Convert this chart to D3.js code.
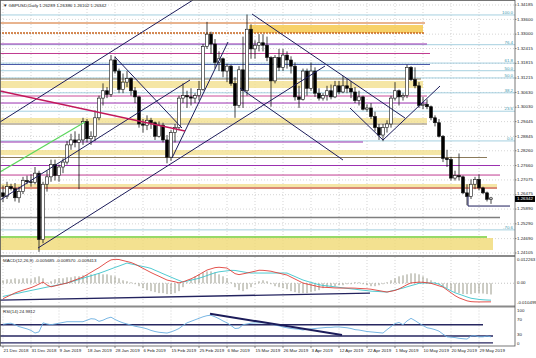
<!DOCTYPE html>
<html>
<head>
<meta charset="utf-8">
<script src="https://cdn.jsdelivr.net/npm/d3@7"></script>
<style>
  body { margin: 0; background: #fff; }
  svg { display: block; }
  text { font-family: "Liberation Sans", Arial, sans-serif; }
</style>
</head>
<body>
<div id="chart"></div>
<script>
// ---- data ----
const title = "\u25BC GBPUSD,Daily 1.26289 1.26386 1.26102 1.26342";
const macdTitle = "MACD(12,26,9) -0.005685 -0.008570 -0.009413";
const rsiTitle = "RSI(14) 24.9812";
const lastPrice = 1.26342;

// [open, high, low, close] per daily bar
const candles = [
  [1.2655,1.2685,1.2617,1.2640],[1.2640,1.2700,1.2630,1.2680],[1.2680,1.2692,1.2665,1.2672],[1.2672,1.2695,1.2620,1.2635],
  [1.2635,1.2680,1.2615,1.2660],[1.2660,1.2720,1.2650,1.2705],[1.2705,1.2725,1.2690,1.2700],[1.2700,1.2730,1.2680,1.2698],
  [1.2698,1.2760,1.2690,1.2735],[1.2735,1.2745,1.2415,1.2465],[1.2465,1.2700,1.2450,1.2690],[1.2690,1.2745,1.2660,1.2720],
  [1.2720,1.2790,1.2700,1.2770],[1.2770,1.2790,1.2705,1.2725],[1.2725,1.2770,1.2700,1.2760],[1.2760,1.2795,1.2735,1.2780],
  [1.2780,1.2865,1.2770,1.2850],[1.2850,1.2895,1.2830,1.2870],[1.2870,1.2905,1.2840,1.2860],[1.2860,1.2895,1.2670,1.2870],
  [1.2870,1.2960,1.2850,1.2945],[1.2945,1.2955,1.2860,1.2875],[1.2875,1.2905,1.2850,1.2885],[1.2885,1.2990,1.2865,1.2960],
  [1.2960,1.3050,1.2950,1.3040],[1.3040,1.3100,1.3010,1.3070],[1.3070,1.3085,1.3040,1.3055],[1.3055,1.3215,1.3045,1.3195],
  [1.3195,1.3210,1.3140,1.3150],[1.3150,1.3160,1.3060,1.3075],[1.3075,1.3140,1.3060,1.3105],[1.3105,1.3150,1.3085,1.3120],
  [1.3120,1.3125,1.3050,1.3070],[1.3070,1.3085,1.3020,1.3045],[1.3045,1.3050,1.2920,1.2935],[1.2935,1.2955,1.2900,1.2930],
  [1.2930,1.2970,1.2910,1.2950],[1.2950,1.2960,1.2915,1.2940],[1.2940,1.2945,1.2870,1.2885],[1.2885,1.2945,1.2880,1.2930],
  [1.2930,1.2940,1.2860,1.2870],[1.2870,1.2890,1.2775,1.2800],[1.2800,1.2910,1.2785,1.2900],[1.2900,1.2935,1.2860,1.2920],
  [1.2920,1.3050,1.2910,1.3040],[1.3040,1.3100,1.3020,1.3050],[1.3050,1.3070,1.3000,1.3045],[1.3045,1.3080,1.3010,1.3040],
  [1.3040,1.3060,1.3020,1.3050],[1.3050,1.3110,1.3030,1.3075],[1.3075,1.3260,1.3070,1.3250],[1.3250,1.3350,1.3240,1.3300],
  [1.3300,1.3310,1.3220,1.3260],[1.3260,1.3280,1.3160,1.3185],[1.3185,1.3230,1.3150,1.3200],[1.3200,1.3205,1.3125,1.3150],
  [1.3150,1.3180,1.3105,1.3170],[1.3170,1.3175,1.3090,1.3100],[1.3100,1.3125,1.2960,1.3010],[1.3010,1.3170,1.3000,1.3155],
  [1.3155,1.3290,1.3000,1.3070],[1.3070,1.3380,1.3050,1.3320],[1.3320,1.3340,1.3200,1.3240],[1.3240,1.3275,1.3200,1.3255],
  [1.3255,1.3300,1.3230,1.3265],[1.3265,1.3300,1.3230,1.3255],[1.3255,1.3290,1.3190,1.3205],[1.3205,1.3210,1.3005,1.3110],
  [1.3110,1.3215,1.3100,1.3205],[1.3205,1.3240,1.3150,1.3165],[1.3165,1.3240,1.3150,1.3215],[1.3215,1.3230,1.3160,1.3195],
  [1.3195,1.3210,1.3140,1.3170],[1.3170,1.3185,1.3030,1.3045],[1.3045,1.3090,1.3000,1.3035],[1.3035,1.3160,1.3030,1.3150],
  [1.3150,1.3160,1.3050,1.3080],[1.3080,1.3185,1.3070,1.3150],[1.3150,1.3165,1.3045,1.3060],[1.3060,1.3080,1.3030,1.3040],
  [1.3040,1.3060,1.3030,1.3050],[1.3050,1.3090,1.3030,1.3070],[1.3070,1.3095,1.3035,1.3045],[1.3045,1.3110,1.3040,1.3090],
  [1.3090,1.3110,1.3055,1.3065],[1.3065,1.3130,1.3060,1.3090],[1.3090,1.3120,1.3060,1.3080],[1.3080,1.3110,1.3040,1.3065],
  [1.3065,1.3085,1.3020,1.3030],[1.3030,1.3070,1.3010,1.3045],[1.3045,1.3050,1.2990,1.2995],[1.2995,1.3015,1.2985,1.3000],
  [1.3000,1.3020,1.2955,1.2965],[1.2965,1.2985,1.2905,1.2920],[1.2920,1.2935,1.2870,1.2890],[1.2890,1.2935,1.2865,1.2920],
  [1.2920,1.2950,1.2900,1.2935],[1.2935,1.3050,1.2920,1.3040],[1.3040,1.3105,1.3030,1.3070],[1.3070,1.3075,1.3010,1.3045],
  [1.3045,1.3060,1.3030,1.3050],[1.3050,1.3176,1.3040,1.3165],[1.3165,1.3170,1.3110,1.3115],[1.3115,1.3165,1.3080,1.3090],
  [1.3090,1.3105,1.3000,1.3010],[1.3010,1.3045,1.2995,1.3015],[1.3015,1.3035,1.2995,1.3005],[1.3005,1.3010,1.2950,1.2960],
  [1.2960,1.2970,1.2925,1.2940],[1.2940,1.2955,1.2880,1.2885],[1.2885,1.2890,1.2780,1.2795],[1.2795,1.2830,1.2760,1.2790],
  [1.2790,1.2800,1.2705,1.2715],[1.2715,1.2745,1.2705,1.2725],[1.2725,1.2815,1.2705,1.2720],[1.2720,1.2725,1.2650,1.2655],
  [1.2655,1.2690,1.2605,1.2640],[1.2640,1.2710,1.2630,1.2690],[1.2690,1.2720,1.2670,1.2710],[1.2710,1.2730,1.2665,1.2675],
  [1.2675,1.2680,1.2650,1.2655],[1.2655,1.2660,1.2620,1.26289],[1.26289,1.26386,1.26102,1.26342]
];

const macdMain = [
  -0.00779,-0.00683,-0.00587,-0.00491,-0.00415,-0.00349,-0.00288,-0.00223,-0.00142,-0.00040,
  0.00061,-0.00091,-0.00182,-0.00132,-0.00086,-0.00035,0.00010,0.00086,0.00162,0.00238,
  0.00314,0.00435,0.00551,0.00673,0.00789,0.00926,0.01067,0.01179,0.01209,0.01199,
  0.01148,0.01098,0.01047,0.00966,0.00860,0.00754,0.00647,0.00541,0.00445,0.00354,
  0.00258,0.00162,0.00116,0.00071,0.00020,0.00071,0.00147,0.00223,0.00319,0.00435,
  0.00551,0.00668,0.00728,0.00789,0.00809,0.00789,0.00769,0.00627,0.00486,0.00435,
  0.00475,0.00516,0.00561,0.00607,0.00658,0.00652,0.00632,0.00607,0.00556,0.00511,
  0.00460,0.00415,0.00314,0.00212,0.00111,0.00010,-0.00040,-0.00086,-0.00132,-0.00182,
  -0.00202,-0.00212,-0.00223,-0.00238,-0.00243,-0.00243,-0.00243,-0.00243,-0.00248,-0.00263,
  -0.00273,-0.00283,-0.00303,-0.00339,-0.00374,-0.00410,-0.00445,-0.00405,-0.00364,-0.00288,
  -0.00182,-0.00071,0.00015,0.00035,0.00056,0.00046,0.00025,-0.00005,-0.00066,-0.00132,
  -0.00192,-0.00339,-0.00481,-0.00627,-0.00738,-0.00814,-0.00890,-0.00930,-0.00941,-0.00945,
  -0.00944,-0.00942,-0.00941
];

const macdSignal = [
  -0.00668,-0.00622,-0.00582,-0.00536,-0.00496,-0.00450,-0.00410,-0.00364,-0.00324,-0.00283,
  -0.00238,-0.00197,-0.00157,-0.00116,-0.00071,-0.00030,0.00010,0.00071,0.00132,0.00192,
  0.00253,0.00319,0.00379,0.00440,0.00501,0.00572,0.00647,0.00723,0.00799,0.00870,
  0.00946,0.01022,0.00976,0.00936,0.00890,0.00845,0.00804,0.00749,0.00658,0.00572,
  0.00481,0.00395,0.00309,0.00223,0.00142,0.00061,0.00106,0.00157,0.00202,0.00253,
  0.00319,0.00389,0.00460,0.00531,0.00577,0.00602,0.00627,0.00652,0.00647,0.00612,
  0.00577,0.00541,0.00516,0.00516,0.00516,0.00516,0.00516,0.00516,0.00516,0.00516,
  0.00516,0.00516,0.00425,0.00339,0.00248,0.00162,0.00101,0.00040,-0.00015,-0.00076,
  -0.00111,-0.00132,-0.00157,-0.00182,-0.00207,-0.00233,-0.00258,-0.00283,-0.00303,-0.00329,
  -0.00354,-0.00374,-0.00400,-0.00410,-0.00420,-0.00435,-0.00445,-0.00395,-0.00344,-0.00293,
  -0.00243,-0.00182,-0.00121,-0.00066,-0.00005,0.00010,0.00010,0.00010,0.00010,-0.00046,
  -0.00162,-0.00273,-0.00389,-0.00481,-0.00551,-0.00622,-0.00693,-0.00759,-0.00789,-0.00819,
  -0.00835,-0.00848,-0.00857
];

const macdHist = [
  0.0015,0.0020,0.0020,0.0025,0.0020,0.0025,0.0025,0.0020,0.0030,0.0035,
  0.0025,0.0005,0.0010,0.0020,0.0025,0.0025,0.0030,0.0030,0.0035,0.0035,
  0.0040,0.0040,0.0045,0.0045,0.0050,0.0045,0.0045,0.0040,0.0035,0.0025,
  0.0015,0.0010,0.0005,-0.0005,-0.0015,-0.0025,-0.0035,-0.0040,-0.0045,-0.0050,
  -0.0050,-0.0055,-0.0055,-0.0050,-0.0040,-0.0020,0.0005,0.0020,0.0035,0.0045,
  0.0055,0.0060,0.0060,0.0055,0.0045,0.0035,0.0025,0.0005,-0.0020,-0.0035,
  -0.0040,-0.0030,-0.0020,-0.0005,0.0010,0.0015,0.0010,-0.0005,-0.0015,-0.0020,
  -0.0025,-0.0030,-0.0040,-0.0045,-0.0050,-0.0050,-0.0050,-0.0045,-0.0040,-0.0035,
  -0.0025,-0.0020,-0.0015,-0.0015,-0.0010,-0.0010,-0.0005,-0.0005,0.0005,0.0005,
  -0.0005,-0.0010,-0.0015,-0.0015,-0.0010,-0.0005,0.0005,0.0015,0.0025,0.0035,
  0.0040,0.0045,0.0050,0.0050,0.0045,0.0035,0.0025,0.0015,0.0005,-0.0005,
  -0.0015,-0.0025,-0.0035,-0.0045,-0.0050,-0.0055,-0.0055,-0.0055,-0.0050,-0.0050,
  -0.0052,-0.0055,-0.0057
];

const rsi = [
  58,60,61,57,52,49,46,42,35,38,
  62,59,57,59,61,63,65,65,65,65,
  65,69,73,72,66,69,74,77,71,66,
  62,59,56,53,51,49,46,42,39,37,
  36,35,38,42,47,55,62,66,70,74,
  78,81,82,78,73,67,62,55,47,48,
  57,59,61,62,62,62,62,59,56,54,
  51,49,47,46,45,43,45,46,47,48,
  49,50,50,51,51,50,49,47,44,43,
  41,39,38,37,36,35,44,52,60,63,
  57,67,74,68,61,55,49,47,44,40,
  32,25,24,23,21,20,19,27,28,25,
  25,27,24.98
];

const dateLabels = ["21 Dec 2018","31 Dec 2018","9 Jan 2019","18 Jan 2019","28 Jan 2019","6 Feb 2019",
  "15 Feb 2019","25 Feb 2019","6 Mar 2019","15 Mar 2019","26 Mar 2019","3 Apr 2019","12 Apr 2019",
  "22 Apr 2019","1 May 2019","10 May 2019","20 May 2019","29 May 2019"];
const dateLabelBars = [0,7,14,21,28,35,42,49,56,63,70,77,84,91,98,105,112,119];

const priceTicks = ["1.34185","1.33600","1.33000","1.32415","1.31815","1.31215","1.30630","1.30030","1.29445",
  "1.28845","1.28260","1.27660","1.27075","1.26475","1.25890","1.25290","1.24690","1.24105"];
const macdTicks = [0.012263, 0, -0.010499];
const rsiTicks = [100, 70, 30, 0];

// horizontal levels: [price, lastBar]
const levels = [
  [1.33453,105.5],[1.33047,105.5],[1.32600,106],[1.32214,106.75],[1.31766,106.75],[1.31177,104.5],
  [1.30486,106],[1.30201,106],[1.29348,106],[1.28616,90],[1.27986,121],[1.27661,124.25],
  [1.27274,124.25],[1.26746,123.5],[1.25547,124.25],[1.24754,121]
];
const levelColors = ["#d2691e","#c8641e","#9b30b0","#c03a90","#4a5aa8","#8b7a5a","#cc4c9a","#9b30b0",
  "#8b7a5a","#9b30b0","#8b7a5a","#9b30b0","#c03a90","#c0304a","#7f7f7f","#74cc34"];
const levelWidths = [1,1.5,1,1,1.2,1,1,1,1,1,1,1,1,1.2,1.6,1.6];

// shaded zones: [priceTop, priceBottom, firstBar, lastBar]
const zones = [
  [1.33372,1.33047,61.5,105],[1.31096,1.30811,-1,105],[1.29592,1.29388,-1,106],
  [1.28291,1.28087,-1,109.75],[1.26909,1.26705,-1,123.5],[1.24714,1.24226,-1,122.5]
];
const zoneColors = ["#f5c542","#f2e08e","#f2e08e","#f2e08e","#f2e08e","#f0da74"];

// fibonacci retracement
const fibHigh = 1.3378, fibLow = 1.2866;
const fibLevels = [100, 76.4, 61.8, 50, 38.2, 23.6, 0, -70.6];
const extraFib = [[1.31514, "50.0"]];

// trend lines: [bar1, price1, bar2, price2]
const trendLines = [
  [-0.75,1.29429,47.5,1.34388],[-0.75,1.26258,46.75,1.31136],[8.75,1.24307,80.5,1.31705],
  [28,1.32071,44.75,1.29185],[42.25,1.27965,56.25,1.32681],[62.25,1.33819,100.5,1.29591],
  [59.25,1.30811,85,1.27884],[86.75,1.29998,95,1.28697],[95,1.28697,109.25,1.30892],
  [116.25,1.26421,116.25,1.26014],[116.25,1.26014,126.75,1.26014]
];
const pinkLine = [-0.75,1.30689,45.5,1.29063];
const greenLine = [-0.75,1.27396,20.5,1.29429];
const macdTrend = [-0.75,-0.0085,91.75,-0.0050];
const rsiTrend = [51.75,86,84.75,30];
const rsiLevels = [[57,120],[27,122.5],[9,122.5]];

// ---- layout ----
const W = 536, H = 358, plotRight = 515;
const fs = 4.4;

const svg = d3.select("#chart").append("svg")
  .attr("width", W).attr("height", H)
  .style("background", "#fff");

const x = d3.scaleLinear().domain([-0.75, 128]).range([0, plotRight]);
const yP = d3.scaleLinear().domain([1.24105, 1.34185]).range([253, 5]);
const yM = d3.scaleLinear().domain([-0.010499, 0.012263]).range([304, 259]);
const yR = d3.scaleLinear().domain([0, 100]).range([346.25, 308.5]);

const defs = svg.append("defs");
const clip = (id, y0, y1) => defs.append("clipPath").attr("id", id)
  .append("rect").attr("x", 0).attr("y", y0).attr("width", plotRight).attr("height", y1 - y0);
clip("cMain", 0, 255);
clip("cMacd", 257, 305.5);
clip("cRsi", 307.5, 346);

const main = svg.append("g").attr("clip-path", "url(#cMain)");
const macdG = svg.append("g").attr("clip-path", "url(#cMacd)");
const rsiG = svg.append("g").attr("clip-path", "url(#cRsi)");

// grid
const gridStyle = sel => sel.attr("stroke", "#b8b8b8").attr("stroke-width", 0.6).attr("stroke-dasharray", "1,2");
[[main, 0, 255], [macdG, 257, 305.5], [rsiG, 307.5, 346]].forEach(([g, y0, y1]) => {
  g.selectAll(null).data(dateLabelBars).enter().append("line")
    .attr("x1", d => x(d)).attr("x2", d => x(d)).attr("y1", y0).attr("y2", y1)
    .call(gridStyle);
});
main.selectAll(null).data(priceTicks).enter().append("line")
  .attr("x1", 0).attr("x2", plotRight)
  .attr("y1", d => yP(+d)).attr("y2", d => yP(+d))
  .call(gridStyle);

// zones
main.selectAll(null).data(zones).enter().append("rect")
  .attr("x", d => x(d[2])).attr("width", d => x(d[3]) - x(d[2]))
  .attr("y", d => yP(d[0])).attr("height", d => yP(d[1]) - yP(d[0]))
  .attr("fill", (d, i) => zoneColors[i]).attr("opacity", 0.8);

// fib lines
const fibColor = "#9ccbdc";
const fibPrice = l => fibLow + (fibHigh - fibLow) * l / 100;
main.selectAll(null).data(fibLevels).enter().append("line")
  .attr("x1", 0).attr("x2", plotRight)
  .attr("y1", d => yP(fibPrice(d))).attr("y2", d => yP(fibPrice(d)))
  .attr("stroke", fibColor).attr("stroke-width", 0.9);
main.selectAll(null).data(extraFib).enter().append("line")
  .attr("x1", 0).attr("x2", plotRight)
  .attr("y1", d => yP(d[0])).attr("y2", d => yP(d[0]))
  .attr("stroke", fibColor).attr("stroke-width", 0.9);
main.selectAll(null).data(fibLevels).enter().append("text")
  .attr("x", plotRight - 2).attr("y", d => yP(fibPrice(d)) - 1)
  .attr("text-anchor", "end").attr("font-size", fs).attr("fill", "#3f97ad")
  .text(d => d.toFixed(1));
main.selectAll(null).data(extraFib).enter().append("text")
  .attr("x", plotRight - 2).attr("y", d => yP(d[0]) - 1)
  .attr("text-anchor", "end").attr("font-size", fs).attr("fill", "#3f97ad")
  .text(d => d[1]);

// horizontal levels
main.selectAll(null).data(levels).enter().append("line")
  .attr("x1", x(-1)).attr("x2", d => x(d[1]))
  .attr("y1", d => yP(d[0])).attr("y2", d => yP(d[0]))
  .attr("stroke", (d, i) => levelColors[i])
  .attr("stroke-width", (d, i) => levelWidths[i])
  .attr("stroke-dasharray", (d, i) => i === 1 ? "2,1" : null);

// candles
const cw = 3;
const cg = main.append("g");
cg.selectAll(null).data(candles).enter().append("line")
  .attr("x1", (d, i) => x(i)).attr("x2", (d, i) => x(i))
  .attr("y1", d => yP(d[1])).attr("y2", d => yP(d[2]))
  .attr("stroke", "#111").attr("stroke-width", 0.8);
cg.selectAll(null).data(candles).enter().append("rect")
  .attr("x", (d, i) => x(i) - cw / 2).attr("width", cw)
  .attr("y", d => yP(Math.max(d[0], d[3])))
  .attr("height", d => Math.max(0.8, Math.abs(yP(d[0]) - yP(d[3]))))
  .attr("fill", d => d[3] >= d[0] ? "#fff" : "#000")
  .attr("stroke", "#111").attr("stroke-width", 0.6);

// trend lines
const seg = (g, arr, yS, color, w) => g.selectAll(null).data(arr).enter().append("line")
  .attr("x1", d => x(d[0])).attr("y1", d => yS(d[1]))
  .attr("x2", d => x(d[2])).attr("y2", d => yS(d[3]))
  .attr("stroke", color).attr("stroke-width", w);
seg(main, trendLines, yP, "#1c1c5a", 1);
seg(main, [pinkLine], yP, "#c2185b", 1.5);
seg(main, [greenLine], yP, "#5cd65c", 1.2);

// MACD panel
macdG.append("line").attr("x1", 0).attr("x2", plotRight)
  .attr("y1", yM(0)).attr("y2", yM(0))
  .attr("stroke", "#999").attr("stroke-width", 0.6).attr("stroke-dasharray", "1,2");
macdG.selectAll(null).data(macdHist).enter().append("line")
  .attr("x1", (d, i) => x(i)).attr("x2", (d, i) => x(i))
  .attr("y1", yM(0)).attr("y2", d => yM(d))
  .attr("stroke", "#9a9a8a").attr("stroke-width", 1);
seg(macdG, [macdTrend], yM, "#23235f", 1.3);
const lineM = d3.line().x((d, i) => x(i)).y(d => yM(d));
macdG.append("path").datum(macdSignal).attr("d", lineM)
  .attr("fill", "none").attr("stroke", "#3cc4cc").attr("stroke-width", 0.9);
macdG.append("path").datum(macdMain).attr("d", lineM)
  .attr("fill", "none").attr("stroke", "#e0403a").attr("stroke-width", 0.9);

// RSI panel
rsiG.selectAll(null).data(rsiLevels).enter().append("line")
  .attr("x1", 0).attr("x2", d => x(d[1]))
  .attr("y1", d => yR(d[0])).attr("y2", d => yR(d[0]))
  .attr("stroke", "#262660").attr("stroke-width", 1.4);
rsiG.append("path").datum(rsi)
  .attr("d", d3.line().x((d, i) => x(i)).y(d => yR(d)))
  .attr("fill", "none").attr("stroke", "#6aaee0").attr("stroke-width", 0.9);
seg(rsiG, [rsiTrend], yR, "#1c1c5a", 2);

// separators and frame
svg.append("line").attr("x1", 0).attr("x2", plotRight).attr("y1", 256).attr("y2", 256)
  .attr("stroke", "#8a8a8a").attr("stroke-width", 2);
svg.append("line").attr("x1", 0).attr("x2", plotRight).attr("y1", 306.5).attr("y2", 306.5)
  .attr("stroke", "#8a8a8a").attr("stroke-width", 2);
svg.append("rect").attr("x", 0.5).attr("y", 0.5).attr("width", plotRight - 0.5).attr("height", 345.5)
  .attr("fill", "none").attr("stroke", "#555").attr("stroke-width", 0.8);

// titles
svg.append("text").attr("x", 3).attr("y", 7).attr("font-size", fs).attr("fill", "#222").text(title);
svg.append("text").attr("x", 3).attr("y", 262).attr("font-size", fs).attr("fill", "#222").text(macdTitle);
svg.append("text").attr("x", 3).attr("y", 313).attr("font-size", fs).attr("fill", "#222").text(rsiTitle);

// right axis labels (price labels next to the price tag are nudged away from it)
const tagY = yP(lastPrice) + 1;
const avoidTag = y => Math.abs(y - tagY) < 5.6 ? (y < tagY ? tagY - 5.6 : tagY + 5.6) : y;
const axisText = (arr, yf, fmt, lo, hi) => svg.selectAll(null).data(arr).enter().append("text")
  .attr("x", plotRight + 2).attr("y", d => Math.min(hi, Math.max(lo, yf(d))))
  .attr("dominant-baseline", "middle").attr("font-size", fs).attr("fill", "#222")
  .text(fmt);
axisText(priceTicks, d => avoidTag(yP(+d)), d => d, 5, 253);
axisText(macdTicks, yM, d => d === 0 ? "0.00" : d.toFixed(6), 260, 303);
axisText(rsiTicks, yR, d => d, 311, 344);
svg.selectAll(null).data(priceTicks).enter().append("line")
  .attr("x1", plotRight).attr("x2", plotRight + 1.5)
  .attr("y1", d => yP(+d)).attr("y2", d => yP(+d)).attr("stroke", "#444").attr("stroke-width", 0.6);

// current price tag
svg.append("rect").attr("x", plotRight).attr("y", tagY - 3).attr("width", 20).attr("height", 6)
  .attr("fill", "#000");
svg.append("text").attr("x", plotRight + 2).attr("y", tagY)
  .attr("dominant-baseline", "middle").attr("font-size", fs).attr("fill", "#fff")
  .text(lastPrice.toFixed(5));

// date axis
svg.selectAll(null).data(dateLabelBars).enter().append("line")
  .attr("x1", d => x(d)).attr("x2", d => x(d)).attr("y1", 346).attr("y2", 348)
  .attr("stroke", "#444").attr("stroke-width", 0.6);
svg.selectAll(null).data(dateLabels).enter().append("text")
  .attr("x", (d, i) => x(dateLabelBars[i]) + 0.5).attr("y", 352)
  .attr("font-size", fs).attr("fill", "#222")
  .text(d => d);
</script>
</body>
</html>
